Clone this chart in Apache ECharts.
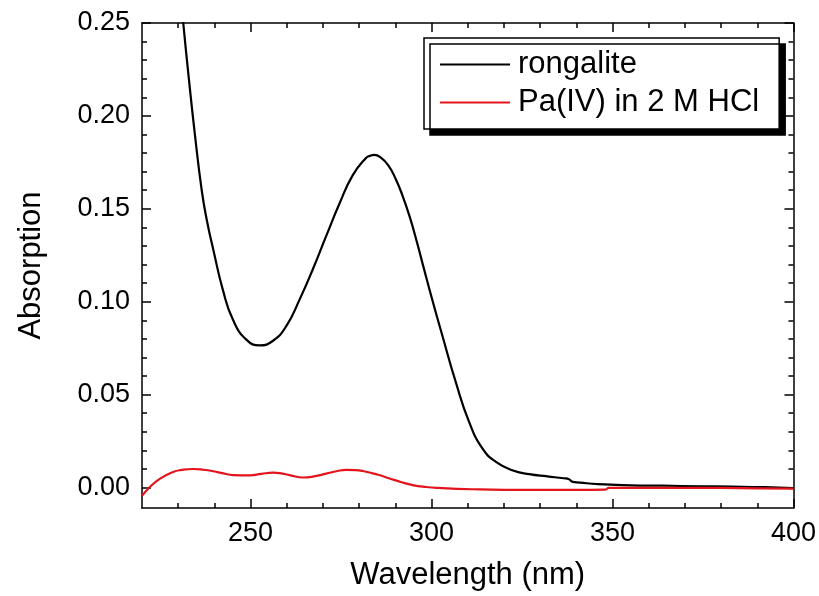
<!DOCTYPE html>
<html><head><meta charset="utf-8">
<script src="https://cdn.jsdelivr.net/npm/echarts@6/dist/echarts.min.js"></script>
<style>html,body{margin:0;padding:0;background:#fff;overflow:hidden}#c{width:819px;height:596px}</style>
</head><body><div id="c"></div>
<script>
const rongaliteWavelength = [220,224,227,229.5,231.4,233,234.5,236.5,238,239.7,242.4,245.2,248.9,252.5,256.2,259.9,263.5,267.2,270.9,274.6,278.2,281.9,283,284.2,286,288,290,292,294,296,298,300,303.0,306.7,310.4,314.1,317.8,322.3,327,332,336.5,338,338.8,341,346,355,364,374,383,392,400];
const rongaliteAbs = [0.48,0.40,0.34,0.29,0.250,0.219,0.192,0.160,0.143,0.128,0.106,0.090,0.0795,0.0765,0.079,0.087,0.101,0.1175,0.1354,0.153,0.168,0.1774,0.1785,0.179,0.1775,0.1735,0.1665,0.157,0.1455,0.1318,0.117,0.1025,0.0817,0.0567,0.0352,0.0209,0.0138,0.0093,0.0072,0.0060,0.0050,0.0045,0.0032,0.0027,0.0018,0.0012,0.0010,0.0007,0.0005,0.0002,-0.0003];
const paWavelength = [220,222.2,225,228.6,231,234.1,237,239.7,242.5,245.2,249.8,253,256.2,258,261,264.5,267.5,270.9,274,276.4,279,281,285,288.4,291.5,294.8,298.5,302.1,311.3,320,330,340,348,349,360,370,380,390,400];
const paAbs = [-0.0045,0.0003,0.0048,0.0084,0.0095,0.0100,0.0096,0.0088,0.0076,0.0067,0.0066,0.0074,0.0080,0.0078,0.0066,0.0054,0.0060,0.0075,0.0089,0.0095,0.0094,0.0089,0.0070,0.0049,0.0030,0.0013,0.0003,-0.0002,-0.0009,-0.0012,-0.0012,-0.0012,-0.0011,-0.0002,-0.0002,-0.0001,-0.0002,-0.0004,-0.0006];
const seriesNames = ['rongalite','Pa(IV) in 2 M HCl'];
const xMajorTicks = [250,300,350,400];
const xMinorTicks = [230,240,260,270,280,290,310,320,330,340,360,370,380,390];
const yMajorTicks = [0,0.05,0.10,0.15,0.20,0.25];
const yMinorTicks = [0.01,0.02,0.03,0.04,0.06,0.07,0.08,0.09,0.11,0.12,0.13,0.14,0.16,0.17,0.18,0.19,0.21,0.22,0.23,0.24];

const FONT = '"Liberation Sans", Arial, sans-serif';
const LS = {color:'#000', width:1.5};
const X_MIN = 220, X_MAX = 400, Y_MIN = -0.011, Y_MAX = 0.25;

function xAx(pos, ticks, len, main, line){
  const a = {type:'value', position:pos, min:X_MIN, max:X_MAX,
    axisLine:{show:line, onZero:false, lineStyle:LS},
    axisTick:{show:true, inside:true, length:len, customValues:ticks, lineStyle:LS},
    axisLabel:{show:false}, splitLine:{show:false}};
  if (main){
    a.axisLabel = {show:true, customValues:ticks, fontSize:27, color:'#000', margin:12, fontFamily:FONT};
    a.name = 'Wavelength (nm)'; a.nameLocation='middle'; a.nameGap=52;
    a.nameTextStyle = {fontSize:31, color:'#000', fontFamily:FONT};
  }
  return a;
}
function yAx(pos, ticks, len, main, line){
  const a = {type:'value', position:pos, min:Y_MIN, max:Y_MAX,
    axisLine:{show:line, onZero:false, lineStyle:LS},
    axisTick:{show:true, inside:true, length:len, customValues:ticks, lineStyle:LS},
    axisLabel:{show:false}, splitLine:{show:false}};
  if (main){
    a.axisLabel = {show:true, customValues:ticks, fontSize:27, color:'#000', margin:12, fontFamily:FONT,
      formatter: v => v.toFixed(2)};
    a.name = 'Absorption'; a.nameLocation='middle'; a.nameGap=95; a.nameRotate=90;
    a.nameTextStyle = {fontSize:31, color:'#000', fontFamily:FONT};
  }
  return a;
}

const chart = echarts.init(document.getElementById('c'), null, {renderer:'canvas', width:819, height:596});
chart.setOption({
  animation:false,
  backgroundColor:'#fff',
  grid:{left:142, right:24, top:23, bottom:87, containLabel:false},
  xAxis:[xAx('bottom',xMajorTicks,9,true,true), xAx('bottom',xMinorTicks,5,false,false),
         xAx('top',xMajorTicks,9,false,true), xAx('top',xMinorTicks,5,false,false)],
  yAxis:[yAx('left',yMajorTicks,9,true,true), yAx('left',yMinorTicks,5,false,false),
         yAx('right',yMajorTicks,9,false,true), yAx('right',yMinorTicks,5,false,false)],
  legend:{left:424, top:38, orient:'vertical', padding:[11,20,11,16], itemGap:7,
    itemWidth:70, itemHeight:2, icon:'rect', selectedMode:false,
    textStyle:{fontSize:31, color:'#000', fontFamily:FONT, padding:[0,0,0,3]},
    backgroundColor:'#fff', borderColor:'#000', borderWidth:1.5,
    shadowColor:'#000', shadowOffsetX:6, shadowOffsetY:6, shadowBlur:0,
    data:seriesNames},
  series:[
    {name:seriesNames[0], type:'line', xAxisIndex:0, yAxisIndex:0, showSymbol:false, symbol:'none',
     smooth:0.5, color:'#000', lineStyle:{color:'#000', width:2.2},
     data: rongaliteWavelength.map((w,i)=>[w, rongaliteAbs[i]])},
    {name:seriesNames[1], type:'line', xAxisIndex:0, yAxisIndex:0, showSymbol:false, symbol:'none',
     smooth:0.5, color:'#e3141c', lineStyle:{color:'#e3141c', width:2.2},
     data: paWavelength.map((w,i)=>[w, paAbs[i]])}
  ]
});
</script>
</body></html>
